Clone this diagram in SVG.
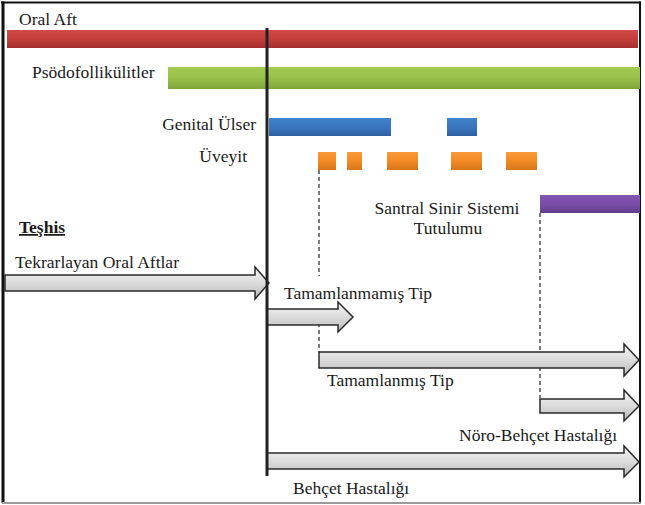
<svg xmlns="http://www.w3.org/2000/svg" width="645" height="505" viewBox="0 0 645 505">
<defs>
<linearGradient id="gRed" x1="0" y1="0" x2="0" y2="1"><stop offset="0" stop-color="#d24a48"/><stop offset="0.5" stop-color="#c63f3d"/><stop offset="1" stop-color="#a3302f"/></linearGradient>
<linearGradient id="gGreen" x1="0" y1="0" x2="0" y2="1"><stop offset="0" stop-color="#a3cb52"/><stop offset="0.5" stop-color="#98c148"/><stop offset="1" stop-color="#7fa33b"/></linearGradient>
<linearGradient id="gBlue" x1="0" y1="0" x2="0" y2="1"><stop offset="0" stop-color="#4182cc"/><stop offset="0.5" stop-color="#3a76c0"/><stop offset="1" stop-color="#2e61a2"/></linearGradient>
<linearGradient id="gOrange" x1="0" y1="0" x2="0" y2="1"><stop offset="0" stop-color="#f99a3a"/><stop offset="0.5" stop-color="#f28a25"/><stop offset="1" stop-color="#d9771b"/></linearGradient>
<linearGradient id="gPurple" x1="0" y1="0" x2="0" y2="1"><stop offset="0" stop-color="#8458b2"/><stop offset="0.5" stop-color="#7a4ea8"/><stop offset="1" stop-color="#633d8c"/></linearGradient>
<linearGradient id="gArrow" x1="0" y1="0" x2="0" y2="1"><stop offset="0" stop-color="#f4f4f4"/><stop offset="0.5" stop-color="#dcdcdc"/><stop offset="1" stop-color="#b9b9b9"/></linearGradient>
</defs>
<style>
.lbl{font-family:"Liberation Serif","Times New Roman",serif;font-size:17.5px;fill:#1a1a1a}
.arrow{fill:url(#gArrow);stroke:#2a2a2a;stroke-width:1.5;stroke-linejoin:miter}
.dash{stroke:#222;stroke-width:1.2;stroke-dasharray:4,3;fill:none}
</style>
<rect x="0" y="0" width="645" height="505" fill="#ffffff"/>
<g id="frame">
<line x1="1" y1="2.5" x2="641" y2="2.5" stroke="#111" stroke-width="2"/>
<line x1="3" y1="1.5" x2="3" y2="503" stroke="#111" stroke-width="3"/>
<line x1="640" y1="1.5" x2="640" y2="503" stroke="#111" stroke-width="2"/>
<line x1="2" y1="503" x2="641" y2="503" stroke="#9a9a9a" stroke-width="2"/>
</g>
<g id="connectors">
<line class="dash" x1="319" y1="170" x2="319" y2="276"/>
<line class="dash" x1="319" y1="309" x2="319" y2="352"/>
<line class="dash" x1="540" y1="213" x2="540" y2="398"/>
</g>
<g id="bar-oral-aft"><rect x="7" y="30" width="631" height="18" fill="url(#gRed)"/><text class="lbl" x="19" y="25">Oral Aft</text></g>
<g id="bar-psodo"><rect x="168" y="67" width="472" height="22" fill="url(#gGreen)"/><text class="lbl" x="32" y="78">Psödofollikülitler</text></g>
<g id="bar-genital"><rect x="269" y="118" width="122" height="18" fill="url(#gBlue)"/><rect x="447" y="118" width="30" height="18" fill="url(#gBlue)"/><text class="lbl" x="256" y="130" text-anchor="end">Genital Ülser</text></g>
<g id="bar-uveyit">
<rect x="318" y="152" width="18" height="18" fill="url(#gOrange)"/>
<rect x="347" y="152" width="15" height="18" fill="url(#gOrange)"/>
<rect x="387" y="152" width="31" height="18" fill="url(#gOrange)"/>
<rect x="451" y="152" width="31" height="18" fill="url(#gOrange)"/>
<rect x="506" y="152" width="31" height="18" fill="url(#gOrange)"/>
<text class="lbl" x="247" y="162" text-anchor="end">Üveyit</text></g>
<g id="bar-sss"><rect x="540" y="195" width="100" height="18" fill="url(#gPurple)"/><text class="lbl" x="447" y="214" text-anchor="middle">Santral Sinir Sistemi</text><text class="lbl" x="448" y="234" text-anchor="middle">Tutulumu</text></g>
<g id="teshis"><text class="lbl" x="19" y="233" font-weight="bold" text-decoration="underline">Teşhis</text></g>
<g id="arrow-tekrarlayan"><path class="arrow" d="M5,275 H255 V267 L269,283 L255,299 V291 H5 Z"/><text class="lbl" x="15" y="268">Tekrarlayan Oral Aftlar</text></g>
<g id="arrow-tamamlanmamis"><path class="arrow" d="M267,309 H338 V302 L353,317 L338,332 V325 H267 Z"/><text class="lbl" x="284" y="299">Tamamlanmamış Tip</text></g>
<g id="arrow-tamamlanmis"><path class="arrow" d="M319,352 H624 V344 L639,360 L624,376 V368 H319 Z"/><text class="lbl" x="327" y="386">Tamamlanmış Tip</text></g>
<g id="arrow-noro"><path class="arrow" d="M540,399 H624 V390 L639,406 L624,421 V413 H540 Z"/><text class="lbl" x="617" y="441" text-anchor="end">Nöro-Behçet Hastalığı</text></g>
<g id="arrow-behcet"><path class="arrow" d="M267,453 H624 V446 L639,462 L624,477 V469 H267 Z"/><text class="lbl" x="293" y="494">Behçet Hastalığı</text></g>
<g id="diagnosis-line"><line x1="267" y1="28" x2="267" y2="476" stroke="#222" stroke-width="3"/></g>
</svg>
